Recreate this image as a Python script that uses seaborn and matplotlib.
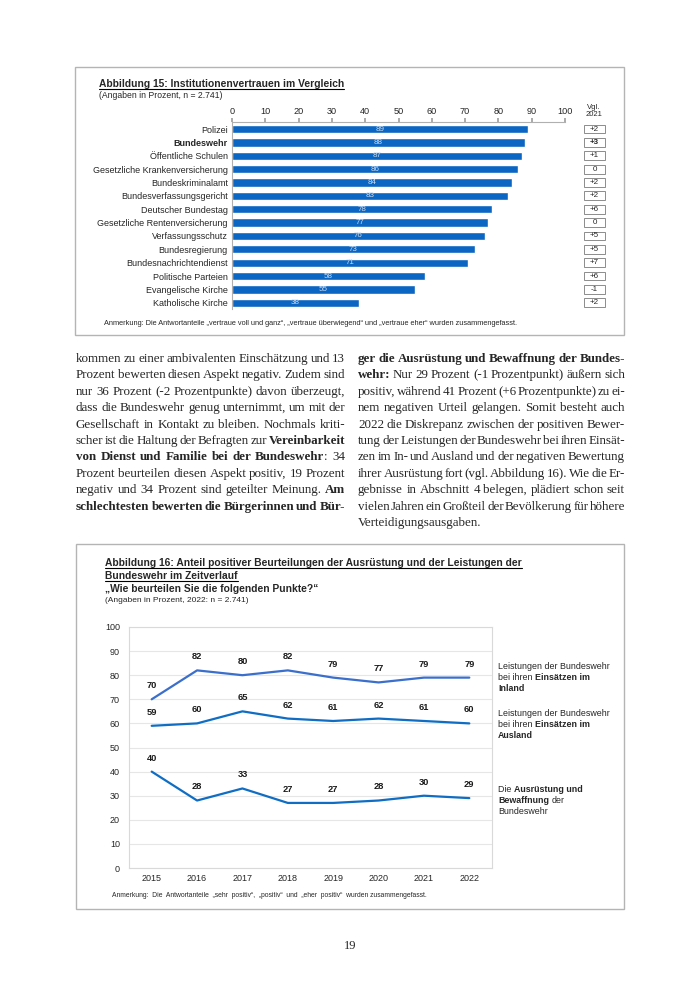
import matplotlib
matplotlib.use('Agg')
import numpy as np
import pandas as pd
import matplotlib.pyplot as plt
import matplotlib.transforms as mtransforms
from matplotlib.patches import Rectangle
import seaborn as sns

W, H = 700, 989

# ---- Abbildung 15 data
institutions = ['Polizei', 'Bundeswehr', 'Öffentliche Schulen', 'Gesetzliche Krankenversicherung',
                'Bundeskriminalamt', 'Bundesverfassungsgericht', 'Deutscher Bundestag',
                'Gesetzliche Rentenversicherung', 'Verfassungsschutz', 'Bundesregierung',
                'Bundesnachrichtendienst', 'Politische Parteien', 'Evangelische Kirche',
                'Katholische Kirche']
trust = [89, 88, 87, 86, 84, 83, 78, 77, 76, 73, 71, 58, 55, 38]
change_2021 = ['+2', '+3', '+1', '0', '+2', '+2', '+6', '0', '+5', '+5', '+7', '+6', '-1', '+2']

# ---- Abbildung 16 data
years = [2015, 2016, 2017, 2018, 2019, 2020, 2021, 2022]
inland = [70, 82, 80, 82, 79, 77, 79, 79]
ausland = [59, 60, 65, 62, 61, 62, 61, 60]
ausruestung = [40, 28, 33, 27, 27, 28, 30, 29]

sans = 'Liberation Sans'
serif = 'Liberation Serif'

sns.set_theme(style='white')
plt.rcParams['font.family'] = [sans, 'DejaVu Sans']

fig = plt.figure(figsize=(W / 100, H / 100), dpi=100)
fig.patch.set_facecolor('white')
renderer = fig.canvas.get_renderer()


def fx(x):
    return x / W


def fy(y):
    return 1 - y / H


def ax_box(left, top, right, bottom):
    return fig.add_axes([fx(left), fy(bottom), (right - left) / W, (bottom - top) / H])


def frame(left, top, right, bottom):
    fig.patches.append(Rectangle((fx(left), fy(bottom)), (right - left) / W, (bottom - top) / H,
                                 transform=fig.transFigure, fill=False, ec='#b4b4b4', lw=1.0))


def measure(txt, bold, size, family):
    t = fig.text(0, 0, txt, fontsize=size, family=family, fontweight='bold' if bold else 'normal')
    w = t.get_window_extent(renderer).width
    t.remove()
    return w


def advance(txt, bold, size, family):
    # width including trailing spaces, via a sentinel glyph
    return measure(txt + '|', bold, size, family) - measure('|', bold, size, family)


def runs_of(line):
    parts = line.split('**')
    return [(p, i % 2 == 1) for i, p in enumerate(parts) if p]


def words_of(line):
    words = [[]]
    for txt, bold in runs_of(line):
        for j, c in enumerate(txt.split(' ')):
            if j > 0:
                words.append([])
            if c:
                words[-1].append((c, bold))
    return [w for w in words if w]


def put(x, y, txt, bold, size, family):
    return fig.text(fx(x), fy(y), txt, fontsize=size, family=family,
                    fontweight='bold' if bold else 'normal', va='baseline', ha='left')


def rich_line(x, y, line, size, family, width=None, underline=False):
    if width is None:
        # left aligned: draw bold/regular runs one after another
        cx = x
        runs = runs_of(line)
        for k, (txt, bold) in enumerate(runs):
            lead = len(txt) - len(txt.lstrip(' '))
            if lead:
                cx += advance(' ' * lead, bold, size, family)
                txt = txt.lstrip(' ')
            put(cx, y, txt, bold, size, family)
            if k < len(runs) - 1:
                cx += advance(txt, bold, size, family)
            else:
                cx += measure(txt, bold, size, family)
        end = cx
    else:
        # justified: spread words over the column width
        words = words_of(line)
        widths = [sum(advance(t, b, size, family) for t, b in w[:-1]) + measure(*w[-1], size, family)
                  for w in words]
        gap = (width - sum(widths)) / max(len(words) - 1, 1)
        cx = x
        for w, ww in zip(words, widths):
            px = cx
            for t, b in w:
                put(px, y, t, b, size, family)
                px += advance(t, b, size, family)
            cx += ww + gap
        end = x + width
    if underline:
        fig.add_artist(plt.Line2D([fx(x), fx(end)], [fy(y + 1.8), fy(y + 1.8)],
                                  color='black', lw=0.8, transform=fig.transFigure))


# =================== Abbildung 15 ===================
frame(75, 67, 624, 335)
rich_line(99, 87, '**Abbildung 15: Institutionenvertrauen im Vergleich**', 7.35, sans, underline=True)
rich_line(99, 98, '(Angaben in Prozent, n = 2.741)', 6.2, sans)

ax1 = ax_box(232, 122, 565, 309)
df1 = pd.DataFrame({'institution': institutions, 'trust': trust})
sns.barplot(data=df1, x='trust', y='institution', color='#0a66c2', saturation=1,
            width=0.62, ax=ax1, orient='h')
ax1.set_xlim(0, 100)
ax1.set_ylim(13.47, -0.53)
ax1.xaxis.tick_top()
ax1.set_xticks(range(0, 101, 10))
ax1.tick_params(axis='x', labelsize=6.6, length=3, color='#a0a0a0', pad=1.5, top=True)
ax1.tick_params(axis='y', labelsize=6.5, length=0, pad=3)
ax1.set_xlabel('')
ax1.set_ylabel('')
for s in ['right', 'bottom']:
    ax1.spines[s].set_visible(False)
for s in ['top', 'left']:
    ax1.spines[s].set_color('#b0b0b0')
    ax1.spines[s].set_linewidth(0.8)
for lbl in ax1.get_yticklabels():
    if lbl.get_text() == 'Bundeswehr':
        lbl.set_fontweight('bold')
for i, v in enumerate(trust):
    ax1.text(v / 2, i, str(v), ha='center', va='center', fontsize=5.8, color='#c9dcf2')

blend = mtransforms.blended_transform_factory(fig.transFigure, ax1.transData)
for i, c in enumerate(change_2021):
    ax1.add_patch(Rectangle((fx(584), i - 0.33), 21 / W, 0.66, transform=blend, fc='white',
                            ec='#8c8c8c', lw=0.7, clip_on=False))
    ax1.text(fx(594.5), i, c, transform=blend, ha='center', va='center', fontsize=5.8,
             fontweight='bold' if c == '+3' and i == 1 else 'normal', clip_on=False)
fig.text(fx(594), fy(111), 'Vgl.\n2021', ha='center', va='center', fontsize=5.5, linespacing=1.0)
rich_line(104, 325, 'Anmerkung: Die Antwortanteile „vertraue voll und ganz“, „vertraue überwiegend“ '
                    'und „vertraue eher“ wurden zusammengefasst.', 5.3, sans)

# =================== Body text ===================
left_col = [
    'kommen zu einer ambivalenten Einschätzung und 13',
    'Prozent bewerten diesen Aspekt negativ. Zudem sind',
    'nur 36 Prozent (-2 Prozentpunkte) davon überzeugt,',
    'dass die Bundeswehr genug unternimmt, um mit der',
    'Gesellschaft in Kontakt zu bleiben. Nochmals kriti-',
    'scher ist die Haltung der Befragten zur **Vereinbarkeit**',
    '**von Dienst und Familie bei der Bundeswehr**: 34',
    'Prozent beurteilen diesen Aspekt positiv, 19 Prozent',
    'negativ und 34 Prozent sind geteilter Meinung. **Am**',
    '**schlechtesten bewerten die Bürgerinnen und Bür-**',
]
right_col = [
    '**ger die Ausrüstung und Bewaffnung der Bundes-**',
    '**wehr:** Nur 29 Prozent (-1 Prozentpunkt) äußern sich',
    'positiv, während 41 Prozent (+6 Prozentpunkte) zu ei-',
    'nem negativen Urteil gelangen. Somit besteht auch',
    '2022 die Diskrepanz zwischen der positiven Bewer-',
    'tung der Leistungen der Bundeswehr bei ihren Einsät-',
    'zen im In- und Ausland und der negativen Bewertung',
    'ihrer Ausrüstung fort (vgl. Abbildung 16). Wie die Er-',
    'gebnisse in Abschnitt 4 belegen, plädiert schon seit',
    'vielen Jahren ein Großteil der Bevölkerung für höhere',
    'Verteidigungsausgaben.',
]
body_size = 9.35
for k, line in enumerate(left_col):
    rich_line(76, 362 + k * 16.4, line, body_size, serif, width=269)
for k, line in enumerate(right_col):
    last = k == len(right_col) - 1
    rich_line(358, 362 + k * 16.4, line, body_size, serif, width=None if last else 267)

# =================== Abbildung 16 ===================
frame(76, 544, 624, 909)
rich_line(105, 566, '**Abbildung 16: Anteil positiver Beurteilungen der Ausrüstung und der Leistungen der**',
          7.35, sans, underline=True)
rich_line(105, 579, '**Bundeswehr im Zeitverlauf**', 7.35, sans, underline=True)
rich_line(105, 592, '**„Wie beurteilen Sie die folgenden Punkte?“**', 7.35, sans)
rich_line(105, 602, '(Angaben in Prozent, 2022: n = 2.741)', 6.0, sans)

ax2 = ax_box(129, 627, 492, 868)
df2 = pd.DataFrame({
    'year': years * 3,
    'value': inland + ausland + ausruestung,
    'series': ['inland'] * 8 + ['ausland'] * 8 + ['ausruestung'] * 8,
})
df2['pos'] = df2['year'] - years[0]
palette = {'inland': '#3b6fcc', 'ausland': '#0f6ec4', 'ausruestung': '#0f6ec4'}
sns.lineplot(data=df2, x='pos', y='value', hue='series', palette=palette, lw=1.6,
             legend=False, ax=ax2)
ax2.set_xlim(-0.5, 7.5)
ax2.set_ylim(0, 100)
ax2.set_yticks(range(0, 101, 10))
ax2.set_xticks(range(len(years)))
ax2.set_xticklabels([str(y) for y in years])
ax2.tick_params(axis='both', labelsize=6.5, length=0)
ax2.tick_params(axis='y', pad=6.5)
ax2.tick_params(axis='x', pad=4)
ax2.set_xlabel('')
ax2.set_ylabel('')
ax2.grid(axis='y', color='#e6e6e6', lw=0.8)
for s in ax2.spines.values():
    s.set_color('#d9d9d9')
    s.set_linewidth(0.8)
for _, r in df2.iterrows():
    ax2.annotate(str(r['value']), (r['pos'], r['value']), xytext=(0, 6.5),
                 textcoords='offset points', ha='center', va='bottom', fontsize=6.7,
                 fontweight='bold', color='#1a1a1a')

side = [
    (669, ['Leistungen der Bundeswehr', 'bei ihren **Einsätzen im**', '**Inland**']),
    (716, ['Leistungen der Bundeswehr', 'bei ihren **Einsätzen im**', '**Ausland**']),
    (792, ['Die **Ausrüstung und**', '**Bewaffnung** der', 'Bundeswehr']),
]
for y0, lines in side:
    for k, line in enumerate(lines):
        rich_line(498, y0 + k * 11, line, 6.4, sans)

rich_line(112, 897, 'Anmerkung:  Die  Antwortanteile  „sehr  positiv“,  „positiv“  und  „eher  positiv“  '
                    'wurden zusammengefasst.', 4.9, sans)

fig.text(fx(350), fy(949), '19', ha='center', va='baseline', fontsize=9, family=serif)

fig.savefig('out.png', dpi=100, facecolor='white')
